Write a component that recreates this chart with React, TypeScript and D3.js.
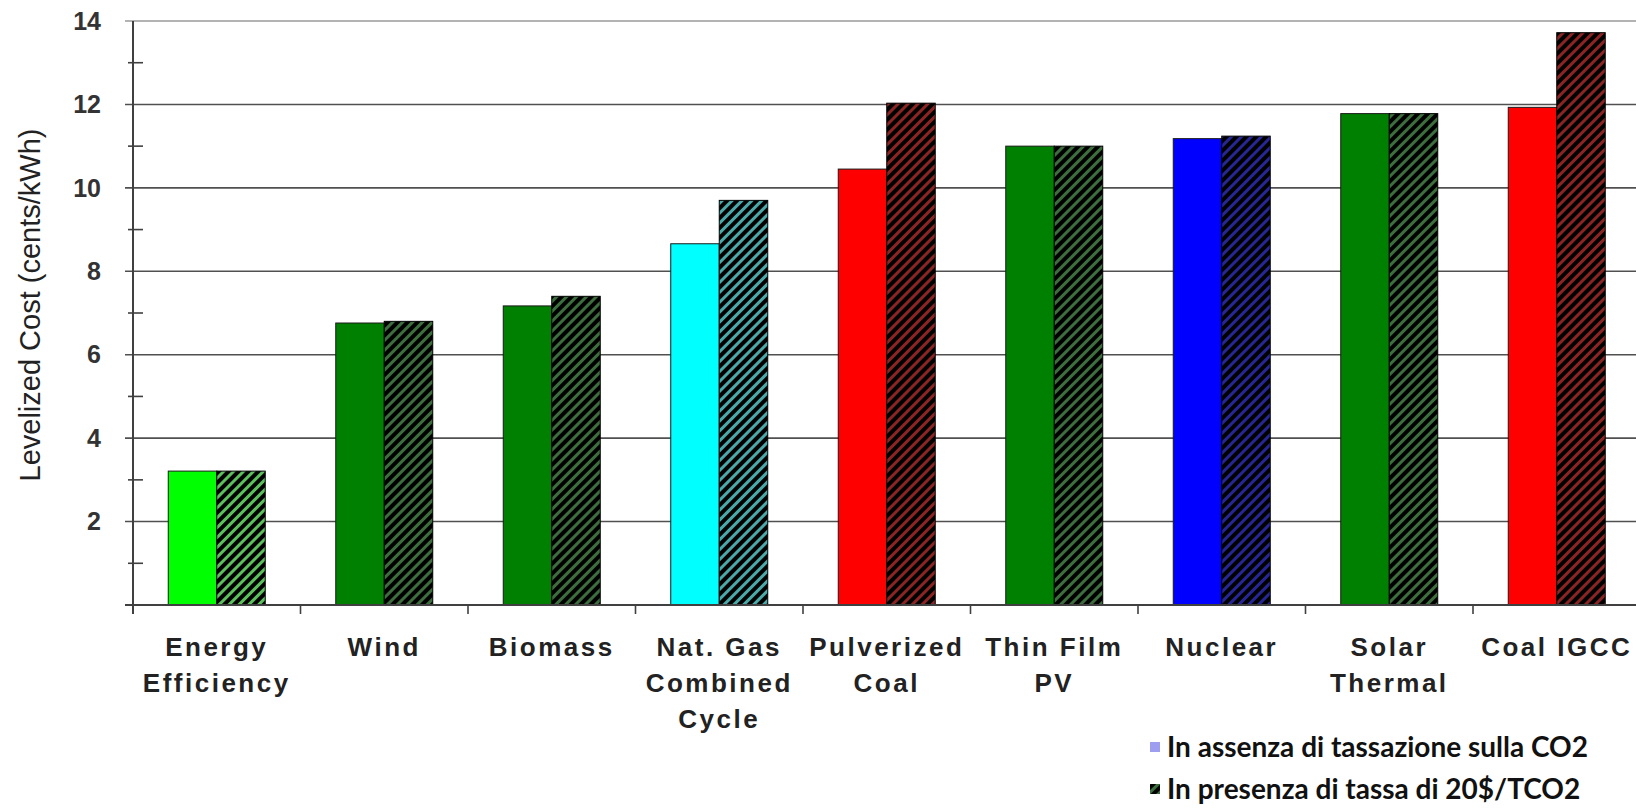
import React from "react";
import * as d3 from "d3";

const categories = [
  ["Energy", "Efficiency"],
  ["Wind"],
  ["Biomass"],
  ["Nat. Gas", "Combined", "Cycle"],
  ["Pulverized", "Coal"],
  ["Thin Film", "PV"],
  ["Nuclear"],
  ["Solar", "Thermal"],
  ["Coal IGCC"],
];
const noTax = [3.21, 6.76, 7.17, 8.66, 10.45, 11.0, 11.18, 11.78, 11.93];
const withTax = [3.21, 6.8, 7.4, 9.7, 12.03, 11.0, 11.24, 11.78, 13.72];
const solidColors = ["#00ff00", "#008000", "#008000", "#00ffff", "#ff0000", "#008000", "#0000ff", "#008000", "#ff0000"];
const stripeColors = ["#5cc05c", "#3d6e3d", "#3d6e3d", "#4ba9a9", "#8c2424", "#3d6e3d", "#262696", "#3d6e3d", "#8c2424"];
const series = ["noTax", "withTax"];
const yTicks = [2, 4, 6, 8, 10, 12, 14];
const yMinorTicks = [1, 3, 5, 7, 9, 11, 13];
const legendLabels = ["In assenza di tassazione sulla CO2", "In presenza di tassa di 20$/TCO2"];

const W = 1636;
const H = 810;
const left = 133;
const top = 21;
const bottom = 605;
const catStep = 167.5;

export default function App() {
  const x0 = d3
    .scaleBand<number>()
    .domain(d3.range(categories.length))
    .range([left, left + catStep * categories.length])
    .padding(0);
  const x1 = d3.scaleBand<string>().domain(series).range([0, x0.bandwidth()]).paddingInner(0).paddingOuter(0.727);
  const y = d3.scaleLinear().domain([0, 14]).range([bottom, top]);

  const stripeIds = Array.from(new Set(stripeColors));

  return (
    <svg
      width={W}
      height={H}
      style={{ position: "absolute", left: 0, top: 0, background: "#fff" }}
      fontFamily="'Liberation Sans', Arial, sans-serif"
    >
      <defs>
        {stripeIds.map((c) => (
          <pattern
            key={c}
            id={"hatch" + c.slice(1)}
            patternUnits="userSpaceOnUse"
            width={7}
            height={7}
            patternTransform="rotate(45)"
          >
            <rect width={7} height={7} fill="#000" />
            <rect width={3} height={7} fill={c} />
          </pattern>
        ))}
      </defs>
      <rect width={W} height={H} fill="#fff" />

      {/* gridlines */}
      {yTicks.map((t) => (
        <line
          key={"g" + t}
          x1={left - 8}
          x2={W}
          y1={y(t)}
          y2={y(t)}
          stroke={t === 14 ? "#9a9a9a" : "#505050"}
          strokeWidth={1.6}
        />
      ))}

      {/* bars */}
      {categories.map((_, i) => {
        const gx = x0(i)!;
        return (
          <g key={"b" + i}>
            <rect
              x={gx + x1("noTax")!}
              y={y(noTax[i])}
              width={x1.bandwidth()}
              height={y(0) - y(noTax[i])}
              fill={solidColors[i]}
              stroke="#1a1a1a"
              strokeWidth={1}
            />
            <rect
              x={gx + x1("withTax")!}
              y={y(withTax[i])}
              width={x1.bandwidth()}
              height={y(0) - y(withTax[i])}
              fill={`url(#hatch${stripeColors[i].slice(1)})`}
              stroke="#000"
              strokeWidth={1}
            />
          </g>
        );
      })}

      {/* y axis */}
      <line x1={left} x2={left} y1={top} y2={bottom + 9} stroke="#404040" strokeWidth={2} />
      {yMinorTicks.map((t) => (
        <line key={"m" + t} x1={left - 5} x2={left + 10} y1={y(t)} y2={y(t)} stroke="#404040" strokeWidth={1.6} />
      ))}
      {yTicks.map((t) => (
        <text
          key={"yl" + t}
          x={101}
          y={y(t)}
          dy="0.35em"
          textAnchor="end"
          fontSize={25}
          fontWeight="bold"
          fill="#333"
        >
          {t}
        </text>
      ))}
      <text
        transform={`translate(30, 305) rotate(-90)`}
        textAnchor="middle"
        fontSize={29}
        fill="#222"
        dy="0.35em"
      >
        Levelized Cost (cents/kWh)
      </text>

      {/* x axis */}
      <line x1={left - 8} x2={W} y1={bottom} y2={bottom} stroke="#404040" strokeWidth={2} />
      {d3.range(categories.length + 1).map((i) => (
        <line
          key={"xt" + i}
          x1={left + i * catStep}
          x2={left + i * catStep}
          y1={bottom}
          y2={bottom + 9}
          stroke="#404040"
          strokeWidth={1.6}
        />
      ))}
      {categories.map((lines, i) => (
        <text
          key={"xl" + i}
          x={x0(i)! + x0.bandwidth() / 2}
          y={656}
          textAnchor="middle"
          fontSize={26}
          fontWeight="bold"
          fill="#222"
          letterSpacing={2.5}
        >
          {lines.map((l, j) => (
            <tspan key={j} x={x0(i)! + x0.bandwidth() / 2} dy={j === 0 ? 0 : 36}>
              {l}
            </tspan>
          ))}
        </text>
      ))}

      {/* legend */}
      <g fontFamily="Lato, 'Open Sans', sans-serif" fontWeight="bold" fontSize={28} fill="#111">
        <rect x={1150} y={742} width={10} height={10} fill="#9e9ef0" />
        <text x={1167} y={747} dy="0.35em">
          {legendLabels[0]}
        </text>
        <rect x={1150} y={784} width={10} height={10} fill={`url(#hatch${stripeColors[1].slice(1)})`} />
        <text x={1167} y={789} dy="0.35em">
          {legendLabels[1]}
        </text>
      </g>
    </svg>
  );
}
